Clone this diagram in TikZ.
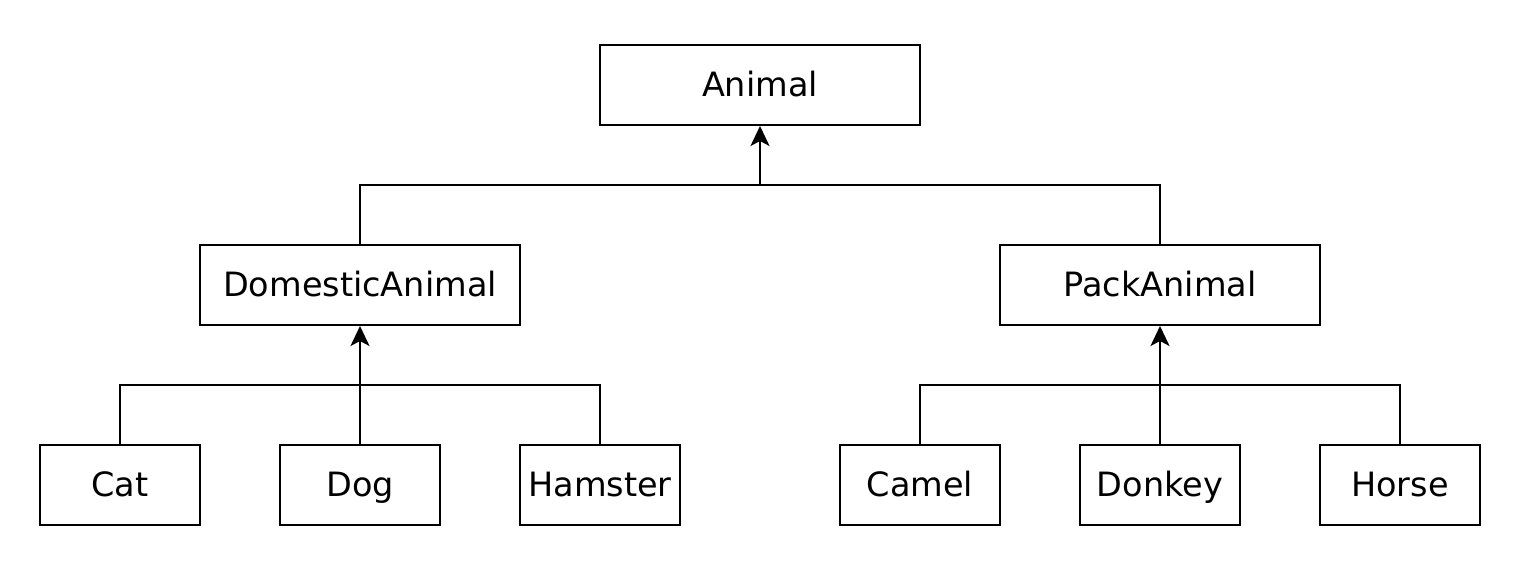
\documentclass[tikz,border=0pt]{standalone}
\usepackage{fontspec}
\setmainfont{DejaVu Sans}
\usetikzlibrary{arrows.meta}
\begin{document}
\begin{tikzpicture}[x=1pt,y=-1pt,
  cls/.style={draw=black,line width=2pt,fill=white,minimum height=80pt,inner sep=0pt,
    text height=26pt,text depth=4pt,
    font=\fontsize{33.5}{40}\selectfont,text=black},
  wide/.style={cls,minimum width=320pt},
  narrow/.style={cls,minimum width=160pt},
  conn/.style={draw=black,line width=2pt},
  inh/.style={conn,arrows={-Stealth[length=20pt,width=19pt,inset=5pt]}}]
\fill[white] (0,0) rectangle (1522,568);
\useasboundingbox (0,0) rectangle (1522,568);
\node[wide] (animal) at (760,85) {Animal};
\node[wide] (dom) at (360,285) {DomesticAnimal};
\node[wide] (pack) at (1160,285) {PackAnimal};
\node[narrow] (cat) at (120,485) {Cat};
\node[narrow] (dog) at (360,485) {Dog};
\node[narrow] (ham) at (600,485) {Hamster};
\node[narrow] (camel) at (920,485) {Camel};
\node[narrow] (donkey) at (1160,485) {Donkey};
\node[narrow] (horse) at (1400,485) {Horse};
\coordinate (j0) at (760,185);
\coordinate (j1) at (360,385);
\coordinate (j2) at (1160,385);
\draw[conn] (dom.north) |- (j0);
\draw[conn] (pack.north) |- (j0);
\draw[inh] (j0) -- (animal.south);
\draw[conn] (cat.north) |- (j1);
\draw[conn] (ham.north) |- (j1);
\draw[inh] (dog.north) -- (dom.south);
\draw[conn] (camel.north) |- (j2);
\draw[conn] (horse.north) |- (j2);
\draw[inh] (donkey.north) -- (pack.south);
\end{tikzpicture}
\end{document}
